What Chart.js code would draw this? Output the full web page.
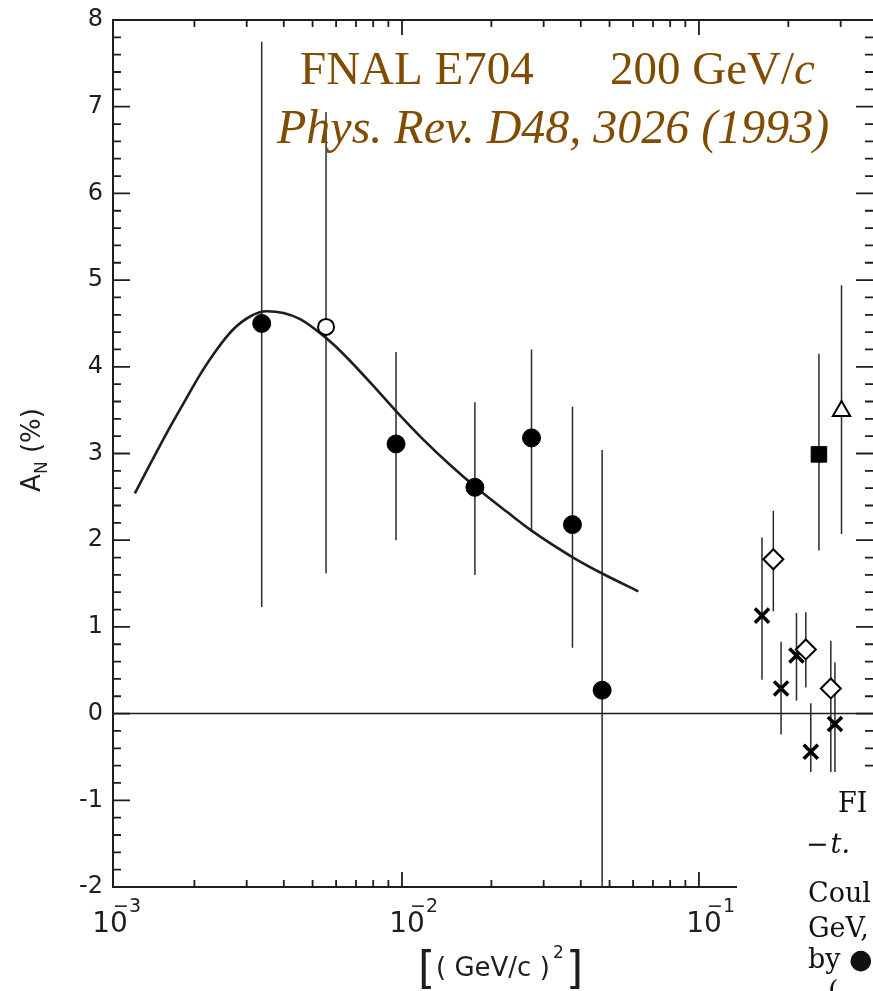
<!DOCTYPE html>
<html>
<head>
<meta charset="utf-8">
<script src="https://cdn.jsdelivr.net/npm/chart.js@4.4.1/dist/chart.umd.min.js"></script>
<style>
  body { margin: 0; background: #fff; }
</style>
</head>
<body>
<canvas id="chart" width="873" height="991"></canvas>
<script>
// theory curve (Coulomb-nuclear interference)
var curveT = [0.00126, 0.00142, 0.00161, 0.00184, 0.00209, 0.00238, 0.00270, 0.00308, 0.00350, 0.00399,
              0.00454, 0.00516, 0.00587, 0.00668, 0.00801, 0.00960, 0.0118, 0.0145, 0.0176, 0.0225,
              0.0273, 0.0377, 0.0476, 0.0625];
var curveA = [2.54, 2.88, 3.23, 3.58, 3.91, 4.20, 4.43, 4.58, 4.64, 4.62,
              4.55, 4.42, 4.26, 4.07, 3.78, 3.48, 3.16, 2.87, 2.62, 2.33,
              2.11, 1.80, 1.61, 1.41];

// E704 points (filled circles) and their error bar ends
var e704T  = [0.00337, 0.00955, 0.0176, 0.0273, 0.0375, 0.0472];
var e704A  = [4.50, 3.11, 2.61, 3.18, 2.18, 0.27];
var e704Hi = [7.75, 4.17, 3.59, 4.20, 3.54, 3.04];
var e704Lo = [1.23, 2.00, 1.60, 2.10, 0.76, -2.3];

var openT = [0.00555], openA = [4.46], openHi = [6.94], openLo = [1.62];

var diamT  = [0.178, 0.229, 0.278];
var diamA  = [1.78, 0.74, 0.29];
var diamHi = [2.34, 1.17, 0.84];
var diamLo = [1.18, 0.30, -0.8];

var starT  = [0.163, 0.189, 0.213, 0.238, 0.287];
var starA  = [1.13, 0.29, 0.67, -0.44, -0.12];
var starHi = [2.03, 0.83, 1.16, 0.12, 0.59];
var starLo = [0.39, -0.24, 0.15, -0.8, -0.8];

var sqT = [0.2535], sqA = [2.99], sqHi = [4.15], sqLo = [1.88];
var triT = [0.302], triA = [3.49], triHi = [4.94], triLo = [2.07];

// axis ticks
var xMajor = [0.001, 0.01, 0.1];
var xMinor = [0.002, 0.003, 0.004, 0.005, 0.006, 0.007, 0.008, 0.009,
              0.02, 0.03, 0.04, 0.05, 0.06, 0.07, 0.08, 0.09, 0.2, 0.3];
var xLabelExp = ['\u22123', '\u22122', '\u22121'];
var yLabels = [-2, -1, 0, 1, 2, 3, 4, 5, 6, 7, 8];

var caption = [['FI', 838, 812], ['\u2212t.', 806, 853], ['Coul', 808, 902], ['GeV,', 808, 937], ['by \u25CF', 808, 968], ['(', 828, 1000]];

var ink = '#1e1e1e';
var brown = '#7f4c00';

function pts(t, a) {
    return t.map(function(v, i) { return { x: v, y: a[i] }; });
}

var frame = {
    id: 'frame',
    beforeDatasetsDraw: function(chart) {
        var ctx = chart.ctx, a = chart.chartArea, x = chart.scales.x, y = chart.scales.y;
        ctx.save();
        ctx.strokeStyle = ink;
        ctx.lineWidth = 2;
        ctx.beginPath();
        ctx.moveTo(a.right, a.top); ctx.lineTo(a.left, a.top);
        ctx.lineTo(a.left, a.bottom); ctx.lineTo(a.right, a.bottom);
        ctx.stroke();

        // y ticks, both sides, pointing inward
        ctx.lineWidth = 1.8;
        for (var i = -10; i <= 40; i++) {
            var py = y.getPixelForValue(i / 5);
            var len = (i % 5 === 0) ? 17 : 8;
            ctx.beginPath();
            ctx.moveTo(a.left, py); ctx.lineTo(a.left + len, py);
            ctx.moveTo(a.right, py); ctx.lineTo(a.right - len, py);
            ctx.stroke();
        }
        // x ticks, top and bottom
        xMajor.concat(xMinor).forEach(function(v) {
            var px = x.getPixelForValue(v);
            if (px < a.left + 2 || px > a.right) return;
            var len = xMajor.indexOf(v) >= 0 ? 15 : 7;
            ctx.beginPath();
            ctx.moveTo(px, a.bottom); ctx.lineTo(px, a.bottom - len);
            ctx.moveTo(px, a.top); ctx.lineTo(px, a.top + len);
            ctx.stroke();
        });

        // zero line
        ctx.lineWidth = 1.5;
        ctx.beginPath();
        ctx.moveTo(a.left, y.getPixelForValue(0));
        ctx.lineTo(a.right, y.getPixelForValue(0));
        ctx.stroke();

        // error bars
        ctx.save();
        ctx.beginPath();
        ctx.rect(a.left, a.top, a.right - a.left, a.bottom - a.top);
        ctx.clip();
        ctx.lineWidth = 1.5;
        ctx.strokeStyle = '#2a2a2a';
        chart.data.datasets.forEach(function(ds, di) {
            if (!ds.errHi) return;
            var meta = chart.getDatasetMeta(di);
            meta.data.forEach(function(el, j) {
                ctx.beginPath();
                ctx.moveTo(el.x, y.getPixelForValue(ds.errHi[j]));
                ctx.lineTo(el.x, y.getPixelForValue(ds.errLo[j]));
                ctx.stroke();
            });
        });
        ctx.restore();

        // tick labels
        ctx.fillStyle = ink;
        ctx.font = '24px "DejaVu Sans"';
        ctx.textAlign = 'right';
        ctx.textBaseline = 'middle';
        yLabels.forEach(function(v) {
            ctx.fillText(v < 0 ? '-' + Math.abs(v) : String(v), 103, y.getPixelForValue(v));
        });
        ctx.textBaseline = 'alphabetic';
        xMajor.forEach(function(v, i) {
            var cx = x.getPixelForValue(v) + 5;
            ctx.font = '28px "DejaVu Sans"';
            ctx.textAlign = 'center';
            ctx.fillText('10', cx, 932);
            ctx.font = '19px "DejaVu Sans"';
            ctx.textAlign = 'left';
            ctx.fillText(xLabelExp[i], cx + 3, 912);
        });

        // axis titles
        ctx.save();
        ctx.translate(40, 450);
        ctx.rotate(-Math.PI / 2);
        ctx.textAlign = 'left';
        ctx.font = '26px "DejaVu Sans"';
        var w0 = ctx.measureText('A').width;
        ctx.font = '17px "DejaVu Sans"';
        var w1 = ctx.measureText('N').width;
        ctx.font = '26px "DejaVu Sans"';
        var w2 = ctx.measureText(' (%)').width;
        var sx = -(w0 + w1 + w2) / 2;
        ctx.fillText('A', sx, 0);
        ctx.font = '17px "DejaVu Sans"';
        ctx.fillText('N', sx + w0, 7);
        ctx.font = '26px "DejaVu Sans"';
        ctx.fillText(' (%)', sx + w0 + w1, 0);
        ctx.restore();

        ctx.textAlign = 'left';
        ctx.font = '44px "DejaVu Sans"';
        ctx.fillText('[', 418, 983);
        ctx.font = '26px "DejaVu Sans"';
        ctx.fillText('( GeV/c )', 436, 976);
        ctx.font = '17px "DejaVu Sans"';
        ctx.fillText('2', 553, 958);
        ctx.font = '44px "DejaVu Sans"';
        ctx.fillText(']', 566, 983);
        ctx.restore();
    },
    afterDraw: function(chart) {
        var ctx = chart.ctx;
        ctx.save();
        // caption column of the paper covering the lower right corner
        ctx.fillStyle = '#fff';
        ctx.fillRect(737, 772, 873 - 737, 991 - 772);
        ctx.fillStyle = '#111';
        ctx.font = '27px "DejaVu Serif"';
        ctx.textAlign = 'left';
        caption.forEach(function(c) {
            if (c[0] === '\u2212t.') {
                ctx.fillText('\u2212', c[1], c[2]);
                ctx.font = 'italic 27px "DejaVu Serif"';
                ctx.fillText('t.', c[1] + ctx.measureText('\u2212').width + 2, c[2]);
                ctx.font = '27px "DejaVu Serif"';
            } else {
                ctx.fillText(c[0], c[1], c[2]);
            }
        });

        // reference title
        ctx.fillStyle = brown;
        ctx.font = '47px "Liberation Serif"';
        ctx.fillText('FNAL E704', 300, 84);
        ctx.fillText('200 GeV/', 610, 84);
        var wg = ctx.measureText('200 GeV/').width;
        ctx.font = 'italic 47px "Liberation Serif"';
        ctx.fillText('c', 610 + wg, 84);
        ctx.font = 'italic 48px "Liberation Serif"';
        ctx.fillText('Phys. Rev. D48, 3026 (1993)', 277, 143);
        ctx.restore();
    }
};

var ctx = document.getElementById('chart').getContext('2d');
var chart = new Chart(ctx, {
    type: 'scatter',
    data: {
        datasets: [
            {
                label: 'curve',
                data: pts(curveT, curveA),
                showLine: true,
                borderColor: ink,
                borderWidth: 2.6,
                pointRadius: 0,
                cubicInterpolationMode: 'monotone',
                order: 5
            },
            {
                label: 'E704',
                data: pts(e704T, e704A),
                errHi: e704Hi, errLo: e704Lo,
                pointStyle: 'circle',
                pointRadius: 9,
                backgroundColor: '#000',
                borderColor: '#000',
                borderWidth: 1
            },
            {
                label: 'open',
                data: pts(openT, openA),
                errHi: openHi, errLo: openLo,
                pointStyle: 'circle',
                pointRadius: 8,
                backgroundColor: '#fff',
                borderColor: '#000',
                borderWidth: 2
            },
            {
                label: 'diamond',
                data: pts(diamT, diamA),
                errHi: diamHi, errLo: diamLo,
                pointStyle: 'rectRot',
                pointRadius: 10,
                backgroundColor: '#fff',
                borderColor: '#000',
                borderWidth: 2
            },
            {
                label: 'star',
                data: pts(starT, starA),
                errHi: starHi, errLo: starLo,
                pointStyle: 'crossRot',
                pointRadius: 10,
                borderColor: '#000',
                borderWidth: 3.5
            },
            {
                label: 'square',
                data: pts(sqT, sqA),
                errHi: sqHi, errLo: sqLo,
                pointStyle: 'rect',
                pointRadius: 11,
                backgroundColor: '#000',
                borderColor: '#000',
                borderWidth: 1
            },
            {
                label: 'triangle',
                data: pts(triT, triA),
                errHi: triHi, errLo: triLo,
                pointStyle: 'triangle',
                pointRadius: 10,
                backgroundColor: '#fff',
                borderColor: '#000',
                borderWidth: 2
            }
        ]
    },
    options: {
        responsive: false,
        animation: false,
        layout: { autoPadding: false, padding: { left: 113, top: 20, right: 0, bottom: 104 } },
        plugins: { legend: { display: false }, tooltip: { enabled: false } },
        scales: {
            x: { type: 'logarithmic', min: 0.001064, max: 0.3855, display: false },
            y: { type: 'linear', min: -2, max: 8, display: false }
        }
    },
    plugins: [frame]
});
</script>
</body>
</html>
